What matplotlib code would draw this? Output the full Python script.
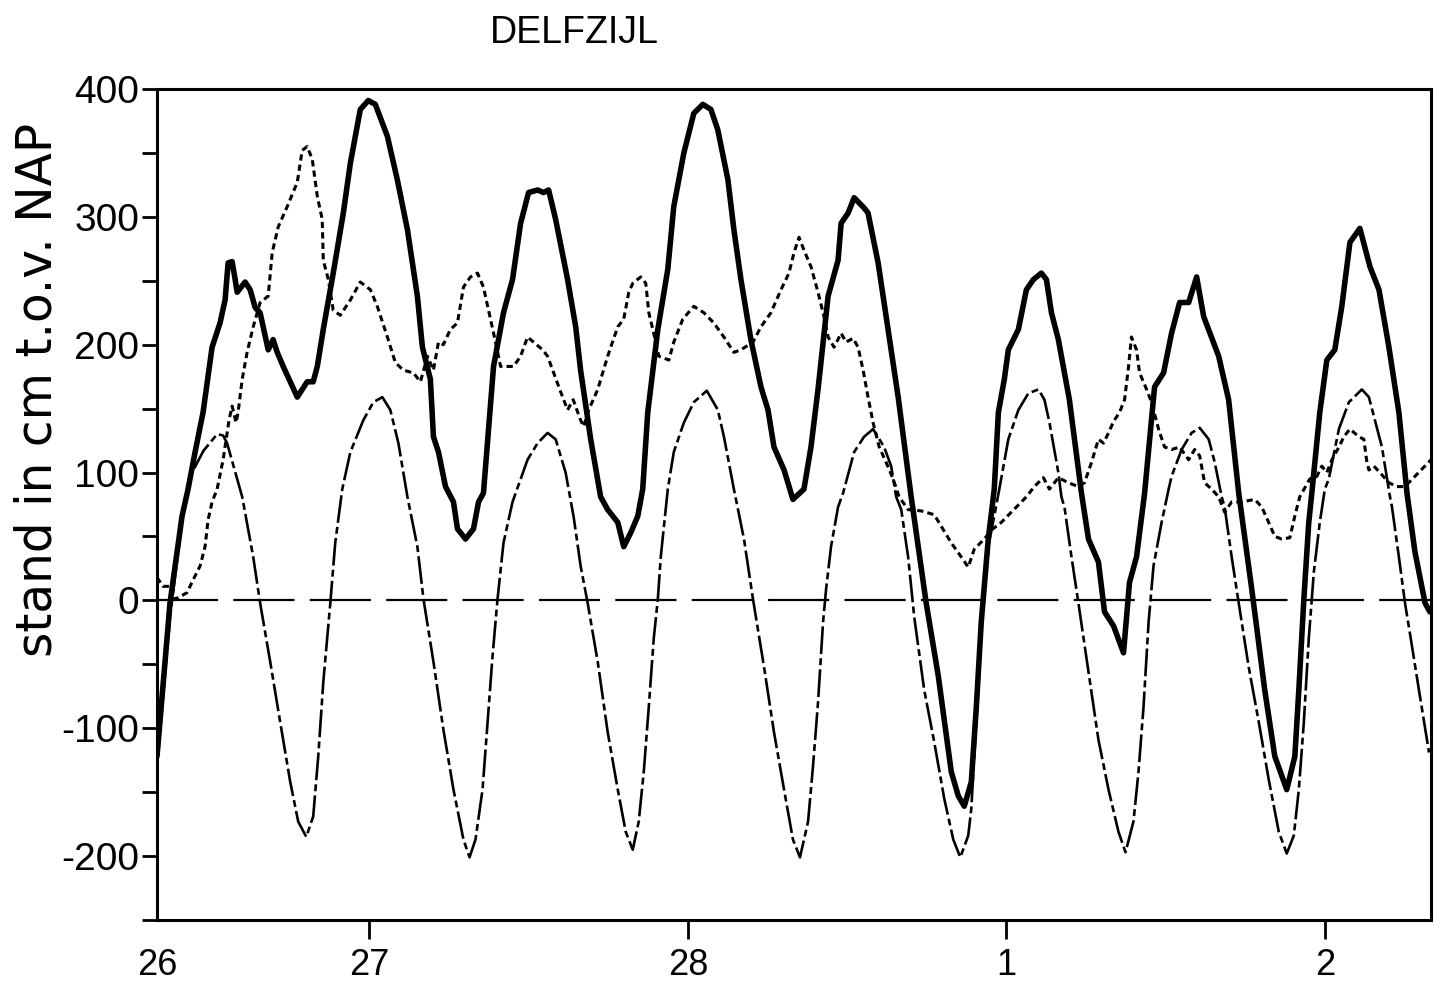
import matplotlib
matplotlib.use('Agg')
import matplotlib.pyplot as plt

plt.rcParams['lines.scale_dashes'] = False
plt.rcParams['font.family'] = ['Liberation Sans', 'DejaVu Sans']

# time in hours since 27 Feb 00:00
obs_h = [-16.0, -15.02, -14.11, -13.66, -13.13, -12.53, -11.85, -11.25, -10.87, -10.64, -10.34, -10.11,
         -9.96, -9.36, -8.98, -8.60, -8.23, -7.62, -7.25, -6.94, -6.49, -5.43, -4.68, -4.23, -3.92,
         -3.47, -2.72, -1.96, -1.43, -0.68, -0.08, 0.45, 1.36, 2.11, 2.87, 3.62, 4.00, 4.60, 4.83,
         5.21, 5.74, 6.34, 6.64, 7.25, 7.85, 8.23, 8.60, 9.36, 10.11, 10.79, 11.40, 12.00, 12.68,
         13.13, 13.51, 14.04, 14.94, 15.55, 15.92, 16.68, 17.43, 17.96, 18.72, 19.17, 19.70, 20.23,
         20.60, 20.98, 21.74, 22.49, 22.94, 23.70, 24.45, 25.13, 25.74, 26.26, 27.02, 27.47, 28.00,
         28.75, 29.51, 30.04, 30.49, 31.25, 31.92, 32.75, 33.28, 33.81, 34.57, 35.32, 35.55, 36.08,
         36.53, 37.28, 37.58, 38.34, 39.09, 39.85, 40.83, 41.96, 42.87, 43.85, 44.38, 44.83, 45.36,
         45.74, 46.11, 46.64, 47.09, 47.40, 47.85, 48.15, 48.91, 49.51, 50.04, 50.64, 51.02, 51.40,
         51.92, 52.75, 53.66, 54.19, 54.94, 55.40, 56.08, 56.83, 57.28, 57.81, 58.42, 59.17, 59.85,
         60.45, 61.06, 61.74, 62.34, 62.87, 64.00, 64.75, 65.51, 66.49, 67.47, 68.23, 69.13, 69.74,
         70.04, 70.42, 70.79, 71.02, 71.62, 72.15, 72.75, 73.28, 73.89, 74.64, 75.40, 76.08, 76.83,
         77.58, 78.19, 78.79, 79.55, 79.92]
obs_v = [-122, -2, 66, 87, 116, 147, 198, 217, 235, 264, 265, 251,
         241, 249, 243, 229, 225, 196, 204, 194, 183, 159, 171, 171, 183,
         212, 256, 303, 342, 384, 391, 388, 363, 329, 290, 238, 198, 173, 128,
         116, 89, 77, 56, 48, 56, 77, 84, 183, 225, 251, 295, 319, 321,
         319, 321, 298, 251, 214, 180, 126, 81, 71, 61, 42, 53, 66,
         87, 147, 212, 259, 308, 350, 381, 388, 384, 368, 329, 290, 251,
         204, 167, 149, 120, 102, 79, 87, 120, 165, 238, 266, 295, 303,
         315, 307, 303, 264, 212, 159, 81, -2, -59, -134, -153, -161, -142,
         -83, -17, 48, 87, 147, 173, 196, 212, 243, 251, 256, 251, 225,
         204, 157, 84, 48, 30, -9, -20, -41, 14, 34, 84, 167, 178,
         209, 233, 233, 253, 222, 191, 157, 84, 9, -70, -122, -148, -122,
         -70, 1, 61, 84, 147, 188, 196, 230, 280, 291, 261, 243, 198,
         147, 84, 38, -2, -9]

astro_h = [-16.0, -15.02, -14.11, -13.51, -12.5, -11.47, -11.02, -10.72, -9.58, -8.75, -8.23, -7.47,
           -6.72, -5.96, -5.36, -4.75, -4.23, -3.85, -3.47, -2.94, -2.57, -2.04, -1.43, -0.45, 0.30,
           0.98, 1.58, 2.19, 2.87, 3.62, 4.08, 4.83, 5.58, 6.34, 7.09, 7.55, 8.00, 8.53, 8.91, 9.28,
           9.66, 10.11, 10.79, 11.92, 12.68, 13.43, 14.04, 14.79, 15.4, 15.92, 16.45, 17.21, 17.96,
           18.72, 19.32, 19.85, 20.30, 20.68, 21.06, 21.43, 21.74, 21.96, 22.49, 22.94, 23.70, 24.45,
           25.43, 26.26, 26.72, 27.47, 28.23, 28.91, 29.74, 30.49, 31.25, 31.92, 32.45, 33.06, 33.43,
           33.81, 34.19, 34.42, 34.79, 35.32, 35.70, 36.53, 37.28, 37.96, 38.79, 39.32, 39.70, 40.08,
           40.60, 41.06, 41.81, 42.57, 43.32, 44.0, 44.53, 45.13, 45.36, 45.58, 45.89, 46.11, 46.49,
           47.09, 47.47, 48.15, 48.91, 49.66, 50.42, 50.87, 51.25, 51.92, 52.15, 52.38, 52.91, 53.43,
           54.19, 54.94, 55.70, 56.45, 56.98, 57.58, 57.96, 58.34, 58.72, 59.09, 59.70, 60.23, 60.45,
           61.21, 61.96, 62.57, 63.25, 63.70, 64.23, 64.45, 64.98, 65.51, 66.26, 67.02, 67.77, 68.53,
           69.13, 69.66, 70.04, 70.42, 70.79, 71.17, 71.62, 72.0, 72.30, 73.06, 73.81, 74.79, 75.32,
           75.77, 76.30, 76.91, 77.06, 77.58, 78.04, 78.57, 79.09, 79.85]
astro_v = [-130, -13, 63, 97, 117, 130, 129, 123, 81, 34, -2, -48,
           -95, -142, -173, -185, -169, -122, -64, -2, 45, 87, 116, 141, 155,
           159, 149, 123, 81, 42, 1, -48, -101, -148, -187, -201, -187, -148, -95, -44,
           1, 45, 77, 110, 123, 131, 126, 100, 65, 27, -2, -48, -103,
           -148, -181, -195, -173, -134, -83, -30, 1, 34, 87, 116, 139, 155,
           164, 149, 128, 87, 48, 1, -52, -103, -148, -187, -201, -173, -130,
           -80, -17, 9, 42, 73, 84, 116, 128, 134, 120, 105, 81, 71,
           34, -13, -70, -111, -155, -187, -201, -184, -163, -122, -70, -17, 34,
           66, 87, 126, 149, 162, 165, 157, 139, 100, 81, 73, 34, -2,
           -56, -109, -148, -181, -197, -173, -134, -83, -17, 27, 61, 87, 97,
           118, 131, 135, 126, 108, 81, 73, 34, -2, -52, -95, -140, -181,
           -198, -184, -148, -95, -30, 22, 61, 87, 95, 134, 155, 165, 159,
           141, 120, 81, 73, 34, -2, -36, -70, -119]

surge_h = [-16.0, -15.55, -15.02, -14.87, -14.42, -13.74, -13.28, -12.75, -12.38, -12.15, -11.85, -11.47,
           -11.02, -10.57, -10.34, -10.04, -9.89, -9.58, -9.21, -8.75, -8.23, -7.62, -7.32, -6.87, -6.19,
           -5.43, -5.06, -4.68, -4.30, -3.92, -3.55, -3.47, -3.09, -2.72, -2.19, -1.43, -0.68, 0.08, 0.60,
           1.36, 1.96, 2.57, 3.32, 3.85, 4.38, 4.83, 5.21, 5.58, 6.11, 6.64, 7.09, 7.62, 8.15, 8.60, 8.98,
           9.51, 9.89, 10.42, 10.87, 11.40, 11.92, 12.38, 13.06, 13.43, 13.89, 14.42, 14.94, 15.36, 15.92,
           16.15, 16.53, 17.21, 17.96, 18.72, 19.17, 19.55, 19.85, 20.45, 20.83, 21.06, 21.43, 21.81, 22.57,
           22.94, 23.62, 24.45, 25.21, 25.96, 26.72, 27.47, 28.00, 28.91, 29.51, 30.26, 31.02, 31.62, 32.0,
           32.38, 32.75, 33.28, 33.81, 34.26, 34.57, 35.02, 35.55, 35.92, 36.45, 36.83, 37.21, 37.58, 37.96,
           38.42, 38.94, 39.47, 39.92, 40.60, 41.58, 42.57, 43.09, 43.85, 44.60, 45.13, 45.58, 46.34, 46.87,
           47.62, 48.38, 49.13, 49.51, 50.11, 50.79, 51.25, 51.92, 52.68, 53.43, 53.89, 54.42, 54.94, 55.32,
           55.70, 56.08, 56.53, 56.91, 57.21, 57.43, 57.81, 58.04, 58.57, 58.94, 59.47, 59.92, 60.45, 61.06,
           61.74, 62.19, 62.57, 62.94, 63.47, 64.0, 64.45, 64.98, 65.74, 66.72, 67.25, 67.77, 68.23, 68.75,
           69.36, 69.74, 70.11, 70.87, 71.40, 71.77, 72.15, 72.53, 73.06, 73.43, 73.89, 74.57, 74.94, 75.17,
           75.32, 75.70, 76.15, 76.83, 77.43, 78.04, 78.79, 79.55, 80.0]
surge_v = [18, 11, 11, 1, 2, 6, 16, 27, 42, 63, 77, 87,
           110, 141, 152, 139, 147, 173, 194, 214, 233, 238, 272, 292, 308,
           327, 352, 355, 345, 316, 298, 266, 251, 227, 223, 235, 249, 243, 230,
           206, 186, 180, 178, 171, 191, 180, 202, 200, 212, 217, 245, 253, 256, 245, 227,
           202, 183, 183, 183, 191, 206, 202, 196, 191, 178, 163, 149, 157, 141,
           136, 149, 165, 191, 214, 220, 241, 248, 253, 248, 225, 209, 191, 188,
           202, 220, 230, 225, 217, 206, 194, 196, 202, 214, 225, 243, 256, 272,
           284, 274, 261, 241, 222, 206, 198, 209, 202, 205, 198, 180, 159, 139,
           120, 108, 95, 81, 71, 70, 67, 58, 45, 34, 26, 40, 48, 55,
           61, 69, 77, 81, 89, 96, 87, 96, 92, 89, 92, 108, 126, 123,
           131, 140, 147, 157, 183, 206, 196, 178, 165, 155, 134, 120, 118, 120,
           110, 118, 113, 92, 87, 81, 69, 77, 77, 79, 73, 61, 50, 48,
           49, 66, 81, 95, 97, 105, 100, 110, 120, 128, 134, 128, 126, 108,
           102, 105, 100, 92, 89, 89, 97, 105, 110]

x_ticks = [-16, 0, 24, 48, 72]
x_labels = ['26', '27', '28', '1', '2']
y_major = [-200, -100, 0, 100, 200, 300, 400]
y_minor = [-250, -150, -50, 50, 150, 250, 350]

fig = plt.figure(figsize=(14.4, 9.83), dpi=100)
ax = fig.add_axes([157/1440, 1 - 920/983, (1431 - 157)/1440, (920 - 89)/983])

ax.axhline(0, color='black', lw=1.6, dashes=(44, 11))
ax.plot(astro_h, astro_v, color='black', lw=1.9, dashes=(20, 3, 5, 3))
ax.plot(surge_h, surge_v, color='black', lw=2.2, dashes=(4.5, 3))
ax.plot(obs_h, obs_v, color='black', lw=4.0, solid_joinstyle='round', solid_capstyle='round')

ax.set_xlim(-16, 80)
ax.set_ylim(-250, 400)
ax.set_xticks(x_ticks)
ax.set_xticklabels(x_labels)
ax.set_yticks(y_major)
ax.set_yticklabels([str(v) for v in y_major])
ax.set_yticks(y_minor, minor=True)

for s in ax.spines.values():
    s.set_linewidth(2.2)
ax.tick_params(axis='y', which='both', direction='out', length=11, width=2.0, labelsize=28, pad=2)
ax.tick_params(axis='x', which='major', direction='out', length=14, width=2.0, labelsize=26, pad=6)
ax.xaxis.get_major_ticks()[0].tick1line.set_visible(False)

fig.text(38/1440, 1 - 390/983, 'stand in cm t.o.v. NAP', rotation=90, ha='center', va='center',
         fontsize=35, family=['DejaVu Sans'])
fig.text(574/1440, 1 - 33/983, 'DELFZIJL', ha='center', va='center', fontsize=27)

fig.savefig('out.png', dpi=100)
